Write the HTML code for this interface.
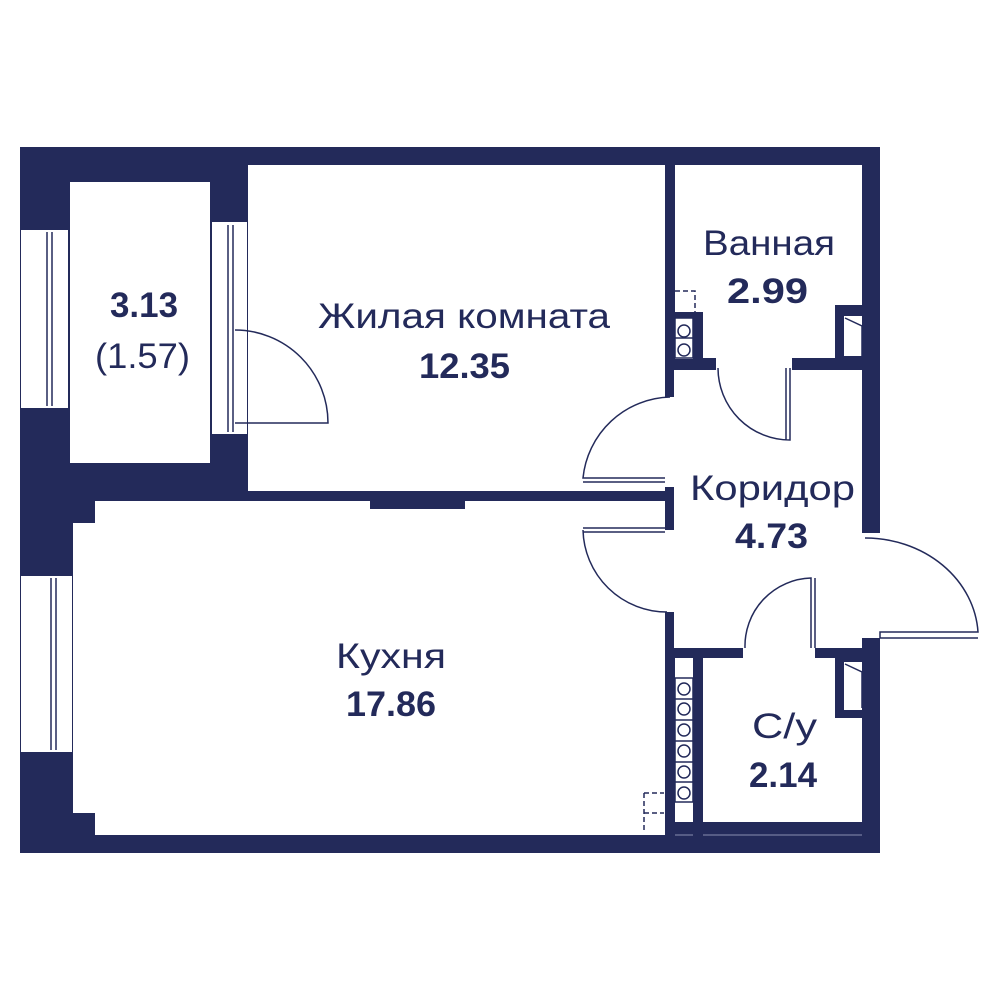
<!DOCTYPE html>
<html><head><meta charset="utf-8"><style>html,body{margin:0;padding:0;background:#fff}svg{display:block}</style></head>
<body>
<svg width="1000" height="1000" viewBox="0 0 1000 1000" xmlns="http://www.w3.org/2000/svg">
<g fill="#232a5a">
<rect x="20" y="147" width="860" height="706"/>
</g>
<g fill="#fff">
<rect x="70" y="182" width="140" height="281"/>
<rect x="21" y="230" width="47" height="178"/>
<rect x="212" y="222" width="35" height="212"/>
<rect x="248" y="165" width="417" height="326"/>
<rect x="95" y="501" width="570" height="334"/>
<rect x="73" y="523" width="30" height="290"/>
<rect x="21" y="576" width="51" height="176"/>
<rect x="675" y="165" width="187" height="193"/>
<rect x="716" y="355" width="76" height="16"/>
<rect x="674" y="370" width="188" height="278"/>
<rect x="663" y="397" width="14" height="90"/>
<rect x="663" y="530" width="14" height="82"/>
<rect x="860" y="533" width="22" height="105"/>
<rect x="743" y="645" width="72" height="14"/>
<rect x="703" y="658" width="159" height="164"/>
<rect x="675" y="658" width="18" height="164"/>
<rect x="675" y="297" width="18" height="62"/>
</g>
<g fill="#232a5a">
<rect x="248" y="491" width="417" height="10"/>
<rect x="370" y="491" width="95" height="18"/>
<rect x="693" y="312" width="10" height="50"/>
<rect x="675" y="312" width="18" height="6"/>
<rect x="835" y="305" width="27" height="55"/>
<rect x="835" y="655" width="27" height="63"/>
<rect x="20" y="147" width="860" height="18"/>
</g>
<g fill="#fff">
<rect x="844" y="316" width="18" height="40"/>
<rect x="844" y="662" width="18" height="48"/>
</g>
<g fill="none" stroke="#8a8fb0" stroke-width="1">
<line x1="675" y1="835" x2="693" y2="835"/><line x1="703" y1="835" x2="862" y2="835"/>
</g>
<g fill="none" stroke="#232a5a" stroke-width="1.5">
<line x1="47" y1="232" x2="47" y2="406"/><line x1="52" y1="232" x2="52" y2="406"/>
<line x1="228" y1="225" x2="228" y2="432"/><line x1="233" y1="225" x2="233" y2="432"/>
<line x1="51" y1="578" x2="51" y2="750"/><line x1="56" y1="578" x2="56" y2="750"/>
<path d="M235 330 A93 93 0 0 1 328 423 L235 423"/>
<path d="M670 397 A90 90 0 0 0 583 478 L665 478 M583 482 L665 482"/>
<path d="M665 528 L583 528 M665 532 L583 532 M583 530 A84 84 0 0 0 667 612"/>
<path d="M718 368 A72 72 0 0 0 790 440 L790 368 M786 440 L786 368"/>
<path d="M865 538 A113 100 0 0 1 978 632 L880 632 L880 638 L978 638"/>
<path d="M745 648 A68 68 0 0 1 811 578 L811 648 M815 578 L815 648"/>
<path d="M845 318 L862 326 L862 356 M845 664 L862 672 L862 708"/>
<rect x="675" y="318" width="18" height="40"/><line x1="675" y1="338" x2="693" y2="338"/>
<circle cx="684" cy="331" r="6"/><circle cx="684" cy="350" r="6"/>
<rect x="675" y="678" width="18" height="124"/>
<line x1="675" y1="699" x2="693" y2="699"/><line x1="675" y1="720" x2="693" y2="720"/><line x1="675" y1="741" x2="693" y2="741"/><line x1="675" y1="762" x2="693" y2="762"/><line x1="675" y1="782" x2="693" y2="782"/>
<circle cx="684" cy="689" r="6"/><circle cx="684" cy="709" r="6"/><circle cx="684" cy="730" r="6"/><circle cx="684" cy="751" r="6"/><circle cx="684" cy="772" r="6"/><circle cx="684" cy="793" r="6"/>
<path stroke-dasharray="5 3" d="M675 291 L695 291 L695 312 M644 793 L664 793 M644 813 L664 813 M644 793 L644 832"/>
</g>
<g fill="#232a5a" font-family="Liberation Sans, sans-serif" font-size="35" text-anchor="start">
<text x="318" y="328" textLength="292" lengthAdjust="spacingAndGlyphs">Жилая комната</text>
<text x="419" y="378" textLength="91" lengthAdjust="spacingAndGlyphs" font-weight="bold">12.35</text>
<text x="703" y="255" textLength="132" lengthAdjust="spacingAndGlyphs">Ванная</text>
<text x="727" y="303" textLength="81" lengthAdjust="spacingAndGlyphs" font-weight="bold">2.99</text>
<text x="690" y="500" textLength="165" lengthAdjust="spacingAndGlyphs">Коридор</text>
<text x="735" y="548" textLength="73" lengthAdjust="spacingAndGlyphs" font-weight="bold">4.73</text>
<text x="336" y="668" textLength="110" lengthAdjust="spacingAndGlyphs">Кухня</text>
<text x="346" y="716" textLength="90" lengthAdjust="spacingAndGlyphs" font-weight="bold">17.86</text>
<text x="752" y="738" textLength="65" lengthAdjust="spacingAndGlyphs">С/у</text>
<text x="749" y="787" textLength="68" lengthAdjust="spacingAndGlyphs" font-weight="bold">2.14</text>
<text x="110" y="317" textLength="68" lengthAdjust="spacingAndGlyphs" font-weight="bold">3.13</text>
<text x="95" y="368" textLength="95" lengthAdjust="spacingAndGlyphs">(1.57)</text>
</g>
</svg>
</body></html>
